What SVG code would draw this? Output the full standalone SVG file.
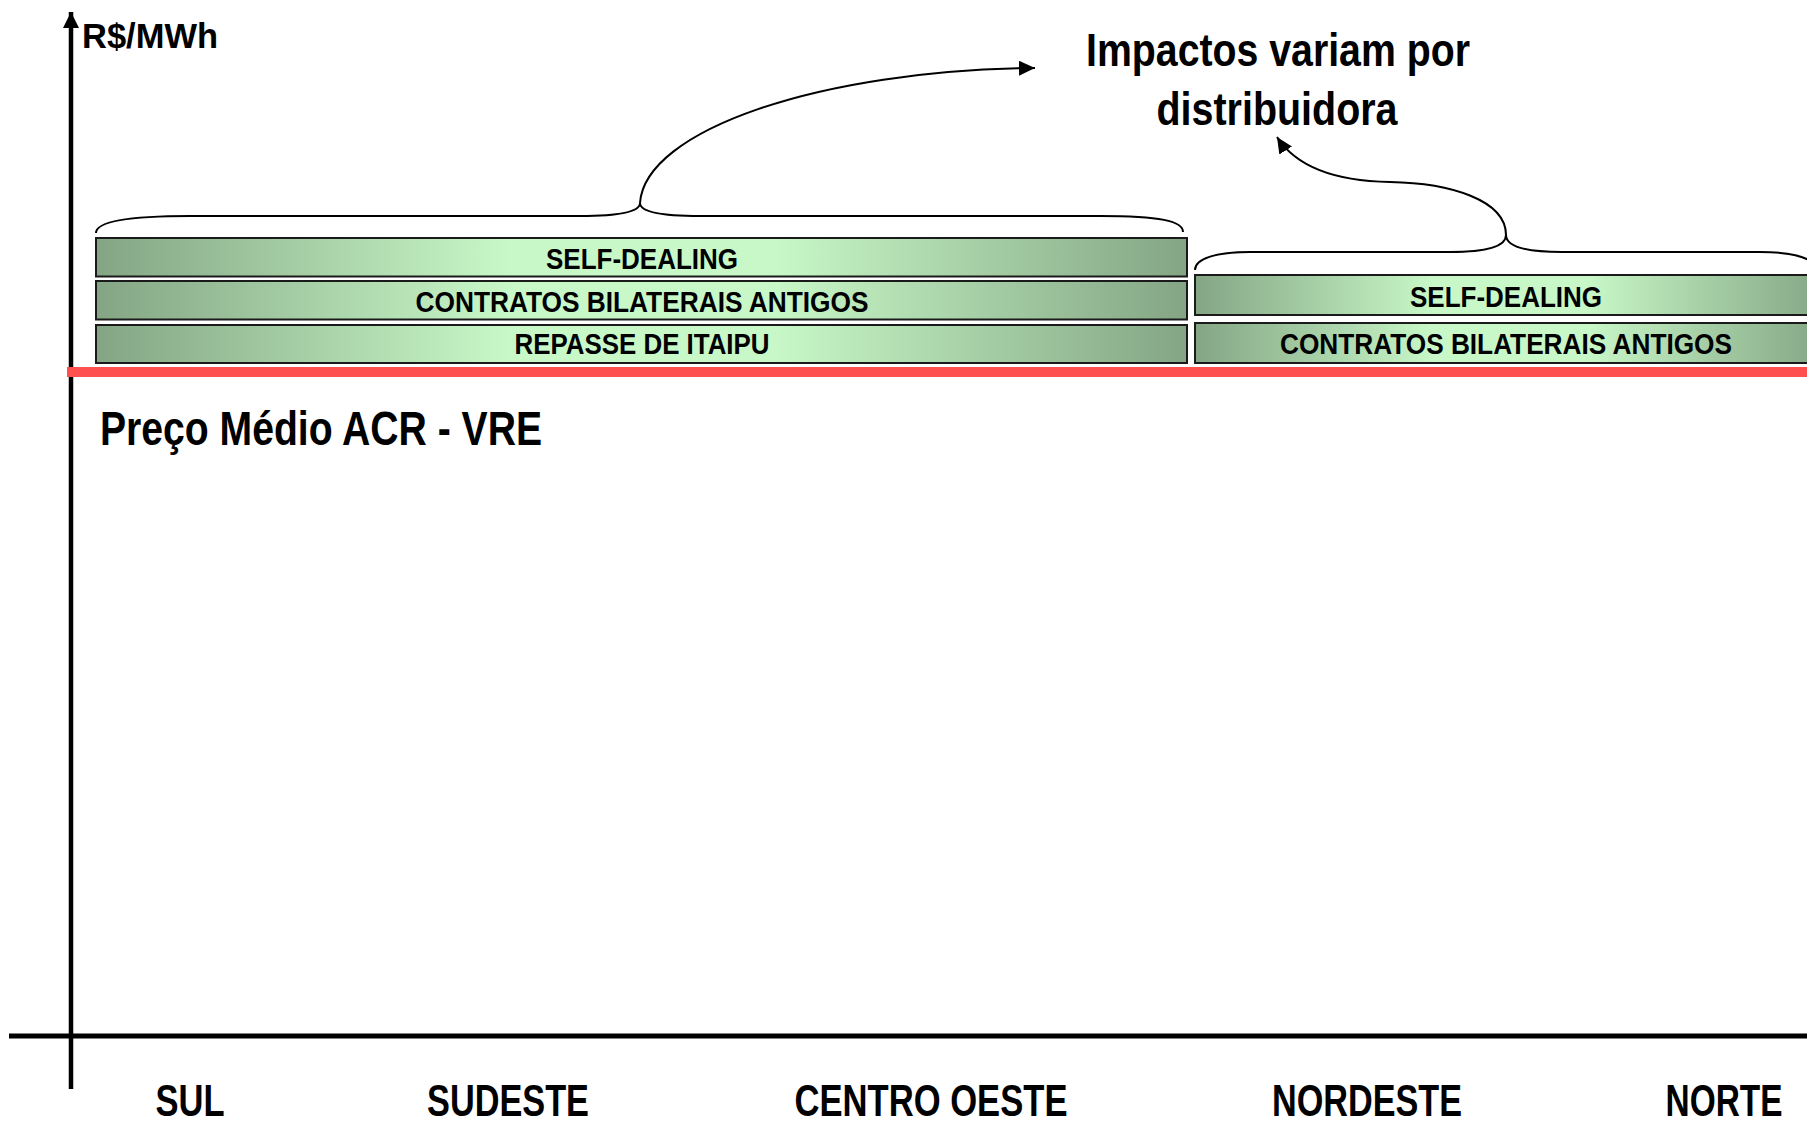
<svg xmlns="http://www.w3.org/2000/svg" width="1807" height="1122" viewBox="0 0 1807 1122">
<style>
.t{font-family:"Liberation Sans Narrow","Liberation Sans",Arial,sans-serif;font-weight:bold;fill:#000}
.bar{fill:url(#g);stroke:#1a1a1a;stroke-width:2}
.bt{font-size:29px;text-anchor:middle}
.brace{fill:none;stroke:#000;stroke-width:2}
.conn{fill:none;stroke:#000;stroke-width:2;marker-end:url(#ah)}
.reg{font-size:44px;text-anchor:middle}
</style>
<defs>
<linearGradient id="g" x1="0" y1="0" x2="1" y2="0">
<stop offset="0" stop-color="#84A584"/>
<stop offset="0.38" stop-color="#C8F8C8"/>
<stop offset="0.62" stop-color="#C8F8C8"/>
<stop offset="1" stop-color="#84A584"/>
</linearGradient>
<marker id="ah" markerUnits="userSpaceOnUse" markerWidth="18" markerHeight="16" refX="16" refY="7.5" orient="auto">
<path d="M0,0 L16,7.5 L0,15 Z" fill="#000"/>
</marker>
<marker id="axh" markerUnits="userSpaceOnUse" markerWidth="18" markerHeight="18" refX="16" refY="8" orient="auto">
<path d="M0,0 L16,8 L0,16 Z" fill="#000"/>
</marker>
</defs>

<g id="axes">
<line x1="71" y1="1089" x2="71" y2="12" stroke="#000" stroke-width="4.5" marker-end="url(#axh)"/>
<line x1="9" y1="1036" x2="1807" y2="1036" stroke="#000" stroke-width="5"/>
<text class="t" x="82" y="48" font-size="35" textLength="136" lengthAdjust="spacingAndGlyphs">R$/MWh</text>
</g>

<g id="preco-medio">
<rect x="67" y="367" width="1740" height="10" fill="#FF5050"/>
<text class="t" x="100" y="445" font-size="48" textLength="442" lengthAdjust="spacingAndGlyphs">Preço Médio ACR - VRE</text>
</g>

<g id="bars-left">
<rect class="bar" x="96" y="238" width="1091" height="38.5"/>
<text class="t bt" x="642" y="268.5" textLength="192" lengthAdjust="spacingAndGlyphs">SELF-DEALING</text>
<rect class="bar" x="96" y="281" width="1091" height="38.5"/>
<text class="t bt" x="642" y="311.5" textLength="453" lengthAdjust="spacingAndGlyphs">CONTRATOS BILATERAIS ANTIGOS</text>
<rect class="bar" x="96" y="325" width="1091" height="38"/>
<text class="t bt" x="642" y="354" textLength="255" lengthAdjust="spacingAndGlyphs">REPASSE DE ITAIPU</text>
</g>

<g id="bars-right">
<rect class="bar" x="1195" y="275" width="630" height="40"/>
<text class="t bt" x="1506" y="307" textLength="192" lengthAdjust="spacingAndGlyphs">SELF-DEALING</text>
<rect class="bar" x="1195" y="323" width="630" height="40"/>
<text class="t bt" x="1506" y="354" textLength="452" lengthAdjust="spacingAndGlyphs">CONTRATOS BILATERAIS ANTIGOS</text>
</g>

<g id="braces">
<path class="brace" d="M96,233 C96,222 125,216 190,216 L580,216 C620,216 640,212 640,203 C640,212 660,216 700,216 L1100,216 C1160,216 1183,221 1183,232"/>
<path class="brace" d="M1195,270 C1195,259 1215,252 1250,252 L1450,252 C1490,252 1506,246 1506,235 C1506,246 1522,252 1562,252 L1760,252 C1790,252 1807,257 1812,263"/>
</g>

<g id="callout">
<text class="t" x="1278" y="66" font-size="46" text-anchor="middle" textLength="384" lengthAdjust="spacingAndGlyphs">Impactos variam por</text>
<text class="t" x="1277" y="125" font-size="46" text-anchor="middle" textLength="241" lengthAdjust="spacingAndGlyphs">distribuidora</text>
</g>

<g id="connectors">
<path class="conn" d="M640,203 C645,130 820,70 1035,68"/>
<path class="conn" d="M1506,235 C1506,200 1450,183 1390,182 C1330,181 1295,165 1277,137"/>
</g>

<g id="regions">
<text class="t reg" x="190" y="1116" textLength="69" lengthAdjust="spacingAndGlyphs">SUL</text>
<text class="t reg" x="508" y="1116" textLength="162" lengthAdjust="spacingAndGlyphs">SUDESTE</text>
<text class="t reg" x="931" y="1116" textLength="273" lengthAdjust="spacingAndGlyphs">CENTRO OESTE</text>
<text class="t reg" x="1367" y="1116" textLength="190" lengthAdjust="spacingAndGlyphs">NORDESTE</text>
<text class="t reg" transform="translate(1724,1116) scale(0.76,1)" x="0" y="0">NORTE</text>
</g>
</svg>
